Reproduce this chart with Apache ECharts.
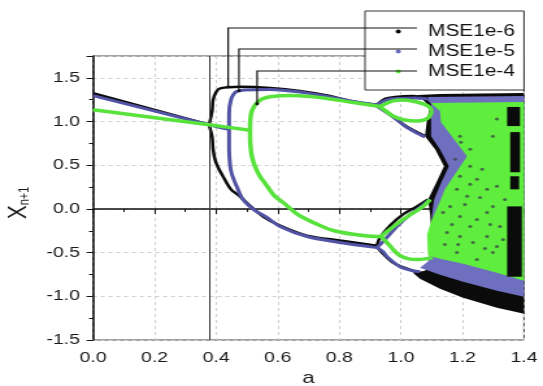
<!DOCTYPE html>
<html>
<head>
<meta charset="utf-8">
<script src="https://cdn.jsdelivr.net/npm/echarts@6/dist/echarts.min.js"></script>
<style>
  html, body { margin: 0; padding: 0; background: #fff; overflow: hidden; }
  /* the figure is laid out narrow and widened horizontally */
  #chart { width: 418px; height: 386px; transform: scaleX(1.299); transform-origin: 0 0; }
</style>
</head>
<body>
<div id="chart"></div>
<script>
// ---- bifurcation diagram data: x = a, y = X(n+1) ----
const criticalA = 0.375;

// MSE1e-6 (black)
const e6Fixed = [[0, 1.324], [0.377, 0.963]];
const e6Upper = [[0.377,0.960],[0.387,1.121],[0.390,1.247],[0.400,1.339],[0.413,1.379],[0.477,1.397],[0.575,1.385],[0.672,1.351],[0.770,1.293],[0.835,1.236],[0.922,1.190]];
const e6Lower = [[0.377,0.960],[0.387,0.822],[0.390,0.684],[0.396,0.569],[0.406,0.477],[0.422,0.374],[0.448,0.224],[0.477,0.144],[0.516,0.017],[0.552,-0.086],[0.607,-0.190],[0.695,-0.305],[0.802,-0.362],[0.922,-0.420]];
const e6BubbleTopA = [[0.922,1.190],[0.948,1.259],[0.981,1.282],[1.039,1.293],[1.088,1.270]];
const e6BubbleTopB = [[0.922,1.178],[0.965,1.086],[1.007,0.971],[1.039,0.902],[1.078,0.833]];
const e6BubbleLowA = [[0.922,-0.420],[0.932,-0.328],[0.965,-0.190],[1.007,-0.063],[1.052,0.029],[1.088,0.109]];
const e6BubbleLowB = [[0.922,-0.420],[0.932,-0.477],[0.974,-0.615],[1.020,-0.684],[1.056,-0.730]];
const e6Chaos = [[1.056,1.305],[1.127,1.316],[1.4,1.328],[1.4,-1.201],[1.312,-1.132],[1.202,-1.017],[1.127,-0.914],[1.062,-0.799],[1.039,-0.730],[1.078,-0.707],[1.104,-0.603],[1.101,-0.351],[1.095,-0.063],[1.088,0.109],[1.114,0.293],[1.140,0.489],[1.111,0.684],[1.078,0.833],[1.085,1.029],[1.095,1.167]];
// periodic-window stripes near the right edge: [a0, a1, y0, y1]
const e6Stripes = [[1.345,1.387,0.948,1.167],[1.355,1.387,0.420,0.879],[1.355,1.384,0.224,0.374],[1.345,1.393,-0.776,0.029]];

// MSE1e-5 (blue)
const e5Fixed = [[0, 1.297], [0.377, 0.963], [0.442, 0.910]];
const e5Upper = [[0.442,0.914],[0.442,1.086],[0.448,1.247],[0.464,1.339],[0.494,1.362],[0.575,1.368],[0.672,1.339],[0.770,1.282],[0.835,1.236],[0.922,1.190]];
const e5Lower = [[0.442,0.914],[0.442,0.684],[0.445,0.511],[0.451,0.397],[0.468,0.247],[0.487,0.109],[0.526,-0.017],[0.565,-0.098],[0.607,-0.201],[0.695,-0.316],[0.802,-0.385],[0.922,-0.443]];
const e5BubbleTopA = [[0.922,1.190],[0.955,1.247],[0.997,1.264],[1.046,1.270],[1.088,1.259]];
const e5BubbleTopB = [[0.922,1.178],[0.971,1.063],[1.013,0.948],[1.046,0.879],[1.078,0.822]];
const e5BubbleLowA = [[0.922,-0.443],[0.942,-0.374],[0.987,-0.201],[1.030,-0.063],[1.062,0.017],[1.095,0.109]];
const e5BubbleLowB = [[0.922,-0.443],[0.942,-0.489],[0.955,-0.546],[0.997,-0.661],[1.039,-0.707],[1.062,-0.718]];
const e5Chaos = [[1.078,1.282],[1.4,1.293],[1.4,-1.006],[1.312,-0.937],[1.202,-0.833],[1.127,-0.753],[1.062,-0.672],[1.088,-0.603],[1.101,-0.408],[1.101,-0.063],[1.108,0.109],[1.130,0.293],[1.156,0.489],[1.127,0.684],[1.098,0.833],[1.098,1.052],[1.098,1.201]];

// MSE1e-4 (green)
const e4Fixed = [[0, 1.136], [0.377, 0.963], [0.510, 0.900]];
const e4Upper = [[0.510,0.891],[0.511,1.029],[0.516,1.121],[0.529,1.201],[0.549,1.259],[0.581,1.287],[0.640,1.299],[0.705,1.287],[0.770,1.259],[0.835,1.224],[0.922,1.178],[0.932,1.172]];
const e4Lower = [[0.510,0.891],[0.511,0.741],[0.516,0.603],[0.526,0.489],[0.542,0.374],[0.559,0.293],[0.588,0.155],[0.617,0.075],[0.656,-0.040],[0.682,-0.098],[0.737,-0.190],[0.780,-0.247],[0.851,-0.293],[0.922,-0.316],[0.935,-0.316]];
const e4BubbleTopA = [[0.932,1.172],[0.942,1.190],[0.974,1.236],[1.007,1.247],[1.052,1.224],[1.088,1.178],[1.101,1.121]];
const e4BubbleTopB = [[0.932,1.172],[0.942,1.144],[0.974,1.063],[1.013,1.017],[1.056,1.006],[1.088,1.040],[1.101,1.121]];
const e4BubbleLowA = [[0.935,-0.316],[0.955,-0.259],[1.007,-0.121],[1.072,0.029],[1.095,0.109]];
const e4BubbleLowB = [[0.935,-0.316],[0.955,-0.385],[0.997,-0.534],[1.052,-0.580],[1.104,-0.557]];
const e4Chaos = [[1.098,1.213],[1.4,1.224],[1.4,-0.822],[1.312,-0.730],[1.202,-0.626],[1.127,-0.569],[1.088,-0.534],[1.085,-0.293],[1.098,-0.144],[1.130,0.109],[1.143,0.224],[1.215,0.603],[1.130,0.994],[1.127,1.121],[1.104,1.190]];

// isolated dark points scattered over the green band
const strayPoints = [[1.192,0.833],[1.195,0.764],[1.225,0.489],[1.192,0.374],[1.182,0.224],[1.247,0.339],[1.280,0.224],[1.215,0.144],[1.160,0.029],[1.137,-0.040],[1.192,-0.086],[1.247,-0.121],[1.280,-0.040],[1.299,0.029],[1.225,-0.201],[1.192,-0.316],[1.150,-0.270],[1.234,-0.385],[1.280,-0.316],[1.322,-0.201],[1.312,-0.431],[1.182,-0.500],[1.247,-0.580],[1.299,-0.500],[1.332,-0.351],[1.312,0.259],[1.299,0.833],[1.312,1.029],[1.176,0.569],[1.225,0.684],[1.264,0.454],[1.166,-0.178],[1.208,0.052],[1.257,0.132],[1.290,-0.178],[1.338,0.109],[1.143,-0.408],[1.273,-0.454],[1.225,0.282],[1.186,-0.408]];

// callout anchors on each curve (a, X) for the legend leaders
const calloutPoints = [[0.439, 1.397], [0.474, 1.351], [0.533, 1.201]];

const seriesNames = ['MSE1e-6', 'MSE1e-5', 'MSE1e-4'];
const xTicks = { min: 0, max: 1.4, step: 0.2 };
const yTicks = { min: -1.5, max: 1.75, step: 0.5 };

// ---- styling ----
const COLORS = { 'MSE1e-6': '#0b0b0b', 'MSE1e-5': '#5353a6', 'MSE1e-4': '#58e23c' };
const FILLS = { 'MSE1e-6': '#0b0b0b', 'MSE1e-5': '#6f6fbf', 'MSE1e-4': '#60ee3e' };
const FONT = '"Liberation Sans", Arial, sans-serif';

function curve(name, data, width, z) {
  return {
    name, type: 'line', data, showSymbol: false, smooth: 0.3,
    lineStyle: { color: COLORS[name], width }, itemStyle: { color: COLORS[name] },
    z, silent: true, animation: false, clip: true
  };
}
function band(name, poly, z) {
  return {
    name, type: 'custom', data: poly, encode: { x: 0, y: 1 }, clip: true, z, silent: true,
    itemStyle: { color: FILLS[name] }, animation: false,
    renderItem: function (params, api) {
      if (params.dataIndex !== 0) return null;
      const pts = poly.map(function (p) { return api.coord(p); });
      return { type: 'polygon', shape: { points: pts }, style: { fill: FILLS[name] } };
    }
  };
}
function stripes(name, rects, z) {
  return {
    name, type: 'custom', data: rects, encode: { x: [0, 1], y: [2, 3] }, clip: true, z, silent: true,
    itemStyle: { color: FILLS[name] }, animation: false,
    renderItem: function (params, api) {
      const p0 = api.coord([api.value(0), api.value(3)]);
      const p1 = api.coord([api.value(1), api.value(2)]);
      return { type: 'rect', shape: { x: p0[0], y: p0[1], width: p1[0] - p0[0], height: p1[1] - p0[1] },
               style: { fill: FILLS[name] } };
    }
  };
}

const series = [
  band('MSE1e-6', e6Chaos, 2),
  band('MSE1e-5', e5Chaos, 2),
  band('MSE1e-4', e4Chaos, 2),
  stripes('MSE1e-6', e6Stripes, 2),
  {
    name: 'MSE1e-5', type: 'scatter', data: strayPoints, symbolSize: 3, silent: true, animation: false,
    itemStyle: { color: '#3d4a48' }, z: 2
  },
  Object.assign(curve('MSE1e-6', e6Fixed, 2.5, 3), {
    markLine: {
      silent: true, symbol: 'none', animation: false, label: { show: false },
      lineStyle: { color: '#3a3a3a', width: 1, type: 'solid' },
      data: [{ xAxis: criticalA }]
    }
  }),
  curve('MSE1e-6', e6Upper, 2.5, 3), curve('MSE1e-6', e6Lower, 2.5, 3),
  curve('MSE1e-6', e6BubbleTopA, 2.5, 3), curve('MSE1e-6', e6BubbleTopB, 2.5, 3),
  curve('MSE1e-6', e6BubbleLowA, 2.5, 3), curve('MSE1e-6', e6BubbleLowB, 2.5, 3),
  curve('MSE1e-5', e5Fixed, 3, 4), curve('MSE1e-5', e5Upper, 3, 4), curve('MSE1e-5', e5Lower, 3, 4),
  curve('MSE1e-5', e5BubbleTopA, 3, 4), curve('MSE1e-5', e5BubbleTopB, 3, 4),
  curve('MSE1e-5', e5BubbleLowA, 3, 4), curve('MSE1e-5', e5BubbleLowB, 3, 4),
  curve('MSE1e-4', e4Fixed, 3.5, 5), curve('MSE1e-4', e4Upper, 3.5, 5), curve('MSE1e-4', e4Lower, 3.5, 5),
  curve('MSE1e-4', e4BubbleTopA, 3.5, 5), curve('MSE1e-4', e4BubbleTopB, 3.5, 5),
  curve('MSE1e-4', e4BubbleLowA, 3.5, 5), curve('MSE1e-4', e4BubbleLowB, 3.5, 5)
];

const chart = echarts.init(document.getElementById('chart'), null, { renderer: 'canvas' });
const axisLabelStyle = { color: '#1a1a1a', fontSize: 15, fontFamily: FONT };

chart.setOption({
  animation: false,
  backgroundColor: '#fff',
  grid: { left: 71.6, right: 14.6, top: 56, bottom: 46, show: true, borderColor: '#444', borderWidth: 1, outerBoundsMode: 'none' },
  xAxis: {
    type: 'value', min: xTicks.min, max: xTicks.max, interval: xTicks.step,
    name: 'a', nameLocation: 'middle', nameGap: 25,
    nameTextStyle: { color: '#1a1a1a', fontSize: 17, fontFamily: FONT },
    axisLine: { lineStyle: { color: '#111', width: 1.5 } },
    axisTick: { inside: false, length: 5, lineStyle: { color: '#111', width: 1 } },
    minorTick: { show: true, splitNumber: 2, length: 3, lineStyle: { color: '#111' } },
    axisLabel: Object.assign({ margin: 10, formatter: function (v) { return v.toFixed(1); } }, axisLabelStyle),
    splitLine: { show: true, lineStyle: { color: '#cfcfcf', type: [3, 3], width: 1 } }
  },
  yAxis: {
    type: 'value', min: yTicks.min, max: yTicks.max, interval: yTicks.step,
    name: '{x|X}{s|n+1}', nameLocation: 'middle', nameGap: 44, nameRotate: 90,
    nameTextStyle: {
      color: '#1a1a1a', fontFamily: FONT,
      rich: { x: { fontSize: 21, fontFamily: FONT, color: '#1a1a1a' },
              s: { fontSize: 11, fontFamily: FONT, color: '#1a1a1a', padding: [11, 10, 0, 0] } }
    },
    axisLine: { lineStyle: { color: '#111', width: 1.5 } },
    axisTick: { inside: false, length: 5, lineStyle: { color: '#111', width: 1 } },
    minorTick: { show: true, splitNumber: 2, length: 3, lineStyle: { color: '#111' } },
    axisLabel: Object.assign({ margin: 10, showMaxLabel: false,
      formatter: function (v) { return v.toFixed(1); } }, axisLabelStyle),
    splitLine: { show: true, lineStyle: { color: '#cfcfcf', type: [3, 3], width: 1 } }
  },
  legend: {
    data: seriesNames, orient: 'vertical', left: 304.6, top: 23.5, padding: 0, itemGap: 4,
    icon: 'circle', itemWidth: 36, itemHeight: 4, symbolKeepAspect: true, z: 6,
    textStyle: { color: '#111', fontSize: 16, fontFamily: FONT },
    selectedMode: false
  },
  series: series
});

// legend frame and leader lines from each curve to its legend entry
const legendRows = [28, 49, 71];
const leaderEndX = 321.0;
const graphics = [{
  type: 'rect', z: 5, silent: true,
  shape: { x: 281.0, y: 11, width: 122.4, height: 79 },
  style: { fill: '#fff', stroke: '#333', lineWidth: 1 }
}];
calloutPoints.forEach(function (p, i) {
  const px = chart.convertToPixel({ gridIndex: 0 }, p);
  graphics.push({
    type: 'polyline', z: 7, silent: true,
    shape: { points: [[px[0], px[1]], [px[0], legendRows[i]], [leaderEndX, legendRows[i]]] },
    style: { stroke: '#111', lineWidth: 1.2, fill: null }
  });
  graphics.push({
    type: 'circle', z: 7, silent: true,
    shape: { cx: px[0], cy: px[1], r: 1.4 }, style: { fill: '#111' }
  });
});
chart.setOption({ graphic: graphics });
</script>
</body>
</html>
